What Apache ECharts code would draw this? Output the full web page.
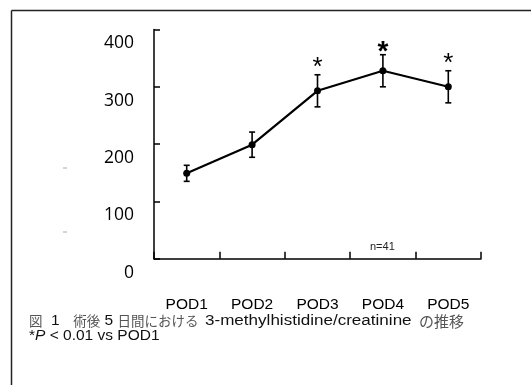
<!DOCTYPE html>
<html><head><meta charset="utf-8">
<script src="https://cdn.jsdelivr.net/npm/echarts@6/dist/echarts.min.js"></script>
<style>html,body{margin:0;padding:0;background:#fff}#c{width:531px;height:385px}</style>
</head><body><div id="c"></div>
<script>
const categories = ['POD1', 'POD2', 'POD3', 'POD4', 'POD5'];
const meanValues = [149, 199, 293, 328, 300];
const sdValues = [14, 22, 28, 28, 28];
const significance = ['', '', '*', '*', '*'];
const yTicks = { min: 0, max: 400, interval: 100 };
const sampleNote = 'n=41';

const chart = echarts.init(document.getElementById('c'), null, { renderer: 'canvas' });
const errData = categories.map((c, i) => [i, meanValues[i] - sdValues[i], meanValues[i] + sdValues[i]]);
const LAT = 'Liberation Sans';
const CJK = 'Noto Sans CJK JP';

chart.setOption({
  animation: false,
  backgroundColor: '#fff',
  grid: { left: 154, right: 50, top: 29.5, bottom: 126.3 },
  xAxis: {
    type: 'category', data: categories, boundaryGap: true,
    axisLine: { lineStyle: { color: '#000', width: 1.5 } },
    axisTick: { show: true, inside: true, length: 7, alignWithLabel: false, lineStyle: { color: '#000', width: 1.5 } },
    axisLabel: { margin: 38, fontFamily: LAT, fontSize: 15.5, color: '#000' }
  },
  yAxis: {
    type: 'value', min: yTicks.min, max: yTicks.max, interval: yTicks.interval,
    splitLine: { show: false },
    axisLine: { show: true, lineStyle: { color: '#000', width: 1.5 } },
    axisTick: { show: true, inside: true, length: 6, lineStyle: { color: '#000', width: 1.5 } },
    axisLabel: { margin: 20, verticalAlign: 'top', padding: [5, 0, 0, 0], fontFamily: 'Open Sans', fontSize: 17.5, color: '#000' }
  },
  series: [
    {
      type: 'line', data: meanValues, symbol: 'circle', symbolSize: 7,
      lineStyle: { color: '#000', width: 2.2 }, itemStyle: { color: '#000' }, z: 3
    },
    {
      type: 'custom', data: errData, z: 4,
      renderItem: function (params, api) {
        const x = api.coord([api.value(0), 0])[0];
        const lo = api.coord([api.value(0), api.value(1)])[1];
        const hi = api.coord([api.value(0), api.value(2)])[1];
        const hw = 3;
        const st = { stroke: '#000', lineWidth: 1.6 };
        const children = [
          { type: 'line', shape: { x1: x, y1: lo, x2: x, y2: hi }, style: st },
          { type: 'line', shape: { x1: x - hw, y1: lo, x2: x + hw, y2: lo }, style: st },
          { type: 'line', shape: { x1: x - hw, y1: hi, x2: x + hw, y2: hi }, style: st }
        ];
        const sig = significance[params.dataIndex];
        if (sig) {
          const big = params.dataIndex === 3;
          children.push({ type: 'text', style: { text: sig, x: x, y: hi - (big ? 2 : 7), align: 'center', verticalAlign: 'middle', fontFamily: LAT, fontSize: big ? 28 : 26, fontWeight: big ? 'bold' : 'normal', fill: '#000' } });
        }
        return { type: 'group', children: children };
      }
    }
  ],
  graphic: [
    { type: 'line', shape: { x1: 11.5, y1: 10.5, x2: 531, y2: 10.5 }, style: { stroke: '#222', lineWidth: 1.5 } },
    { type: 'line', shape: { x1: 11.5, y1: 10.5, x2: 11.5, y2: 385 }, style: { stroke: '#222', lineWidth: 1.5 } },
    { type: 'line', shape: { x1: 63, y1: 168, x2: 67, y2: 168 }, style: { stroke: '#aaa', lineWidth: 1 } },
    { type: 'line', shape: { x1: 63, y1: 232, x2: 67, y2: 232 }, style: { stroke: '#aaa', lineWidth: 1 } },
    { type: 'text', left: 370, top: 241, style: { text: sampleNote, fontFamily: LAT, fontSize: 11, fill: '#222' } },
    { type: 'text', x: 29, y: 321, style: {
        text: '{j|図}{l|  1}{j|　術後}{l| 5 }{j|日間における}', verticalAlign: 'middle',
        rich: {
          j: { fontFamily: CJK, fontSize: 13.5, fill: '#555' },
          l: { fontFamily: LAT, fontSize: 15.5, fill: '#111' }
        }
    } },
    { type: 'text', x: 205, y: 321, scaleX: 1.1, originX: 0, originY: 0, style: {
        text: '3-methylhistidine/creatinine', verticalAlign: 'middle',
        fontFamily: LAT, fontSize: 15.5, fill: '#111'
    } },
    { type: 'text', x: 419, y: 321, style: {
        text: 'の推移', verticalAlign: 'middle',
        fontFamily: CJK, fontSize: 15, fill: '#555'
    } },
    { type: 'text', x: 29, y: 336, style: {
        text: '{a|*}{p|P}{a| < 0.01 vs POD1}', verticalAlign: 'middle',
        rich: {
          a: { fontFamily: LAT, fontSize: 15.5, fill: '#111' },
          p: { fontFamily: LAT, fontSize: 15.5, fontStyle: 'italic', fill: '#111' }
        }
    } }
  ]
});
</script></body></html>
